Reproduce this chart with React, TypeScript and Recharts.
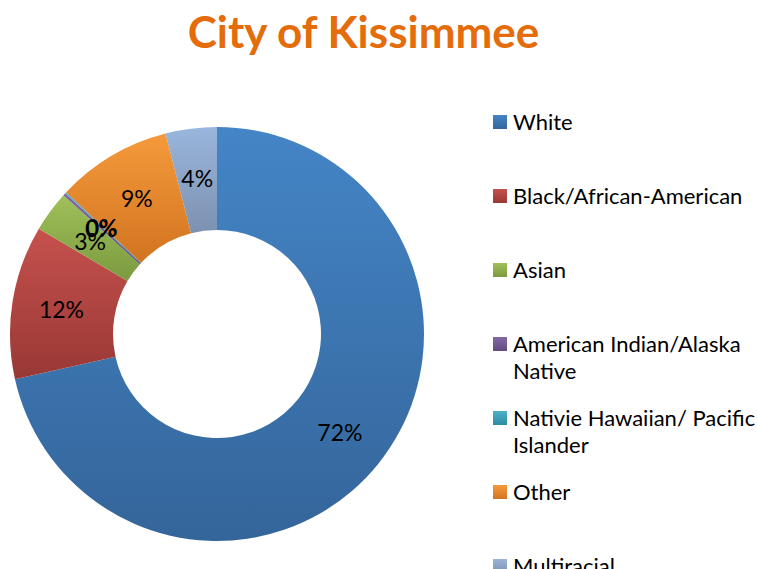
import { PieChart, Pie, Cell, Legend } from 'recharts';

const categories = [
  'White',
  'Black/African-American',
  'Asian',
  'American Indian/Alaska Native',
  'Nativie Hawaiian/ Pacific Islander',
  'Other',
  'Multiracial',
];
const shares = [71.5, 12.0, 3.2, 0.2, 0.1, 9.0, 4.0];
const topColors = ['#4485C6', '#C6514D', '#9FC05A', '#8467A6', '#4DB0CA', '#F59A3C', '#9AB6DC'];
const bottomColors = ['#34659A', '#983835', '#7C9A3F', '#64497F', '#2F8BA3', '#D27420', '#7C91B0'];

const data = categories.map((name, i) => ({ name, value: shares[i] }));

const RADIAN = Math.PI / 180;

function renderLabel(props: any) {
  const { cx, cy, midAngle, innerRadius, outerRadius, value } = props;
  const r = (innerRadius + outerRadius) / 2 + 2;
  const x = cx + r * Math.cos(-midAngle * RADIAN);
  const y = cy + r * Math.sin(-midAngle * RADIAN);
  return (
    <text x={x} y={y} textAnchor="middle" dominantBaseline="central" fontSize={23} fill="#000">
      {`${Math.round(value)}%`}
    </text>
  );
}

function renderLegend(props: any) {
  // keep the legend in the data order rather than sorted
  const items = [...(props.payload || [])].sort(
    (a: any, b: any) => categories.indexOf(a.value) - categories.indexOf(b.value)
  );
  return (
    <div>
      {items.map((entry: any) => {
        const i = categories.indexOf(entry.value);
        return (
          <div key={entry.value} style={{ display: 'flex', alignItems: 'flex-start', height: 74 }}>
            <div style={{ width: 14, height: 14, marginTop: 7, marginRight: 6, flexShrink: 0, background: `linear-gradient(${topColors[i]}, ${bottomColors[i]})` }} />
            <div style={{ fontSize: 22, lineHeight: '27px', color: '#000', width: 250 }}>{entry.value}</div>
          </div>
        );
      })}
    </div>
  );
}

export default function App() {
  return (
    <div style={{ position: 'absolute', left: 0, top: 0, width: 757, height: 569, overflow: 'hidden', background: '#fff', fontFamily: 'Lato, sans-serif' }}>
      <div style={{ position: 'absolute', left: 0, width: 757, top: 5, textAlign: 'center' }}>
        <span style={{ fontSize: 44, fontWeight: 'bold', color: '#E46C0A', marginLeft: -30 }}>City of Kissimmee</span>
      </div>
      <PieChart width={757} height={569} margin={{ top: 0, right: 0, bottom: 0, left: 0 }} style={{ position: 'absolute', left: 0, top: 0 }}>
        <defs>
          {topColors.map((c, i) => (
            <linearGradient key={i} id={`g${i}`} x1="0" y1="0" x2="0" y2="1">
              <stop offset="0%" stopColor={c} />
              <stop offset="100%" stopColor={bottomColors[i]} />
            </linearGradient>
          ))}
        </defs>
        <Pie
          data={data}
          dataKey="value"
          nameKey="name"
          cx={217}
          cy={334}
          innerRadius={104}
          outerRadius={207}
          startAngle={90}
          endAngle={-270}
          stroke="none"
          label={renderLabel}
          labelLine={false}
          isAnimationActive={false}
        >
          {data.map((d, i) => (
            <Cell key={d.name} fill={`url(#g${i})`} />
          ))}
        </Pie>
        <Legend
          layout="vertical"
          content={renderLegend}
          wrapperStyle={{ position: 'absolute', left: 493, top: 108, width: 264 }}
        />
      </PieChart>
    </div>
  );
}
